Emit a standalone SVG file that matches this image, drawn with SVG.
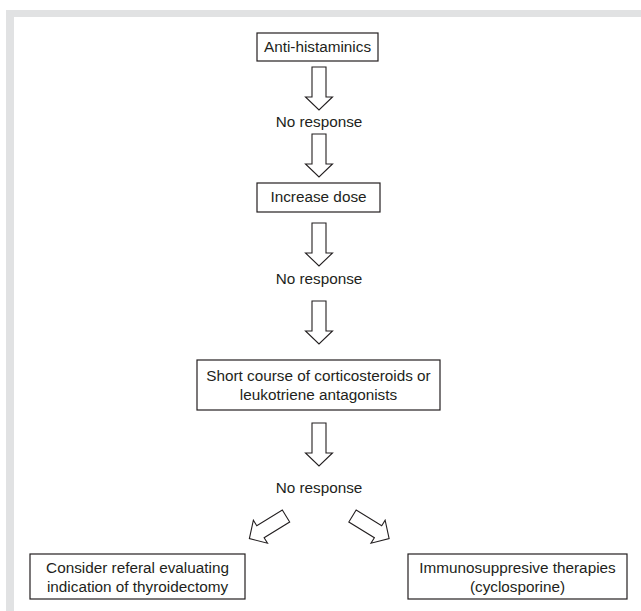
<svg xmlns="http://www.w3.org/2000/svg" xmlns:xlink="http://www.w3.org/1999/xlink" width="641" height="611" viewBox="0 0 641 611">
<defs>
<style>
.box{fill:#fff;stroke:#231f20;stroke-width:1.2}
.arr{fill:#fff;stroke:#231f20;stroke-width:1.1;stroke-linejoin:miter}
.t{font-family:"Liberation Sans",Arial,sans-serif;font-size:15.3px;fill:#231f20;text-anchor:middle}
.frame{fill:#e1e2e3}
</style>
<path id="downArrow" d="M-7,0 H7 V30 H13.5 L0,43 L-13.5,30 H-7 Z"/>
</defs>
<rect width="641" height="611" fill="#fff"/>
<g id="frame">
<rect class="frame" x="6" y="10" width="635" height="7"/>
<rect class="frame" x="6" y="10" width="8" height="601"/>
</g>
<g id="connectors">
<use xlink:href="#downArrow" class="arr" transform="translate(319,67)"/>
<use xlink:href="#downArrow" class="arr" transform="translate(319,134)"/>
<use xlink:href="#downArrow" class="arr" transform="translate(319,223)"/>
<use xlink:href="#downArrow" class="arr" transform="translate(319,301)"/>
<use xlink:href="#downArrow" class="arr" transform="translate(319,423)"/>
<use xlink:href="#downArrow" class="arr" transform="translate(286,516) rotate(58.4)"/>
<use xlink:href="#downArrow" class="arr" transform="translate(352.5,516) rotate(-58.4)"/>
</g>
<g id="labels">
<text class="t" x="319" y="127">No response</text>
<text class="t" x="319" y="284">No response</text>
<text class="t" x="319" y="493">No response</text>
</g>
<g id="node-antihistaminics">
<rect class="box" x="257" y="33" width="121" height="28"/>
<text class="t" x="317.5" y="52">Anti-histaminics</text>
</g>
<g id="node-increase-dose">
<rect class="box" x="257" y="183" width="123" height="29"/>
<text class="t" x="318.5" y="202">Increase dose</text>
</g>
<g id="node-short-course">
<rect class="box" x="197" y="360" width="243" height="50"/>
<text class="t" x="318.5" y="381">Short course of corticosteroids or</text>
<text class="t" x="318.5" y="400">leukotriene antagonists</text>
</g>
<g id="node-referal">
<rect class="box" x="30" y="554" width="215" height="45"/>
<text class="t" x="137.5" y="573">Consider referal evaluating</text>
<text class="t" x="137.5" y="592">indication of thyroidectomy</text>
</g>
<g id="node-immunosuppresive">
<rect class="box" x="408" y="554" width="219" height="45"/>
<text class="t" x="517.5" y="573">Immunosuppresive therapies</text>
<text class="t" x="517.5" y="592">(cyclosporine)</text>
</g>
</svg>
